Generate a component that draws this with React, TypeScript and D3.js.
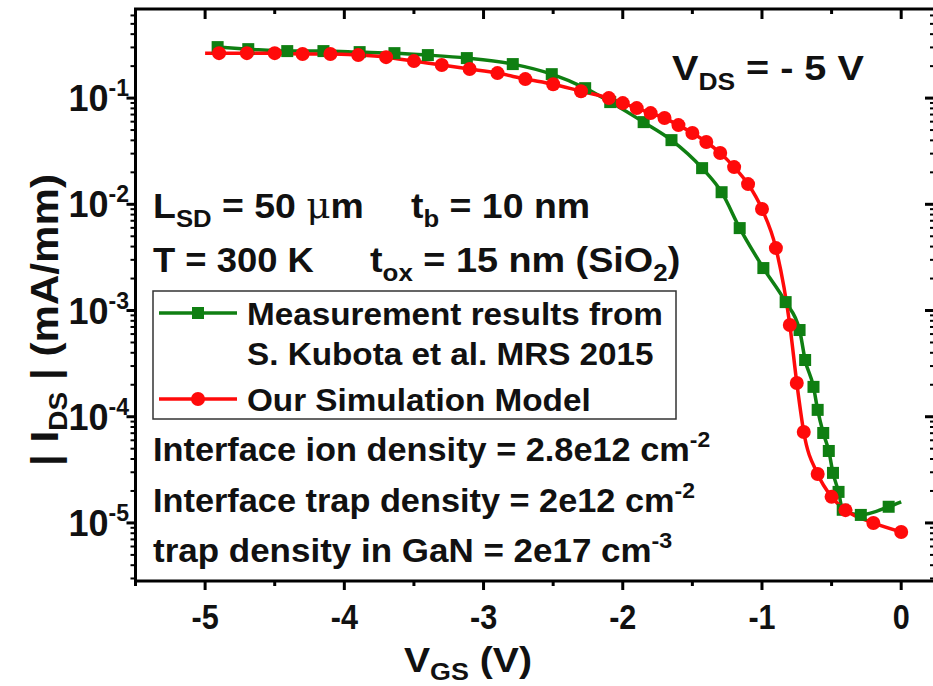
import React from 'react'
import * as d3 from 'd3'

const measVgs = [-4.91, -4.69, -4.41, -4.15, -3.89, -3.64, -3.40, -3.12, -2.79, -2.51, -2.27, -2.09, -1.85, -1.65, -1.43, -1.29, -1.16, -0.99, -0.83, -0.73, -0.69, -0.63, -0.60, -0.56, -0.52, -0.49, -0.45, -0.42, -0.29, -0.09, 0.0]
const measIds = [0.302, 0.289, 0.277, 0.277, 0.271, 0.265, 0.254, 0.238, 0.209, 0.168, 0.124, 0.0917, 0.0594, 0.0402, 0.0219, 0.013, 0.00597, 0.00251, 0.0012, 6.55e-4, 3.42e-4, 1.91e-4, 1.16e-4, 7.03e-5, 4.76e-5, 2.96e-5, 1.96e-5, 1.33e-5, 1.19e-5, 1.42e-5, 1.58e-5]

// simulation model (red circles)
const simVgs = [-5.0, -4.9, -4.7, -4.5, -4.3, -4.1, -3.9, -3.7, -3.5, -3.3, -3.1, -2.9, -2.7, -2.5, -2.3, -2.1, -2.0, -1.9, -1.8, -1.7, -1.6, -1.5, -1.4, -1.3, -1.2, -1.1, -1.0, -0.9, -0.8, -0.75, -0.7, -0.6, -0.5, -0.4, -0.2, 0.0]
const simIds = [0.265, 0.265, 0.265, 0.265, 0.26, 0.26, 0.254, 0.243, 0.223, 0.205, 0.188, 0.172, 0.151, 0.135, 0.116, 0.1, 0.0897, 0.0805, 0.0722, 0.0649, 0.0557, 0.0469, 0.0386, 0.0304, 0.0224, 0.0155, 0.00902, 0.00387, 7.31e-4, 2.08e-4, 7.18e-5, 2.89e-5, 1.76e-5, 1.32e-5, 1.0e-5, 8.22e-6]

const xTickValues = [-5, -4, -3, -2, -1, 0]
const xTickLabels = ['-5', '-4', '-3', '-2', '-1', '0']
const yTickValues = [1e-1, 1e-2, 1e-3, 1e-4, 1e-5]
const yTickExps = ['-1', '-2', '-3', '-4', '-5']

const legendNames = ['Measurement results from', 'S. Kubota et al. MRS 2015', 'Our Simulation Model']

const GREEN = '#0f7f12'
const RED = '#ff0a0a'
const FONT = "'Liberation Sans', Arial, sans-serif"
const txt = { fontFamily: FONT, fontWeight: 700, fill: '#111' } as const

// text stretched a little sideways, the original picture is wider than Arial
function T({ x, y, size, sx = 1, rot = 0, anchor = 'start', children }: any) {
  return (
    <g transform={`translate(${x},${y}) rotate(${rot}) scale(${sx},1)`}>
      <text fontSize={size} textAnchor={anchor} style={txt}>{children}</text>
    </g>
  )
}

export default function App() {
  const W = 933
  const H = 686
  const x = d3.scaleLinear().domain([-5.5, 0.25]).range([135.5, 936])
  const y = d3.scaleLog().domain([2.84e-6, 0.69]).range([581, 9])
  const [x0, x1] = x.range()
  const [y0, y1] = y.range()

  const meas = measVgs.map((v, i) => ({ v, c: measIds[i] }))
  const sim = simVgs.map((v, i) => ({ v, c: simIds[i] }))
  const line = d3.line<{ v: number; c: number }>()
    .x(d => x(d.v))
    .y(d => y(d.c))
    .curve(d3.curveMonotoneX)

  const xMinor = d3.range(-5.5, 0.26, 0.5).filter(v => Math.abs(v - Math.round(v)) > 0.1)
  const yMinor = y.ticks().filter(v => {
    const m = v / Math.pow(10, Math.floor(Math.log10(v) + 1e-9))
    return Math.abs(m - 1) > 0.01
  })

  const sw = 3

  return (
    <svg width={W} height={H} style={{ position: 'absolute', left: 0, top: 0, background: '#fff' }}>
      <rect width={W} height={H} fill="#fff" />

      {/* ticks */}
      <g stroke="#000" strokeWidth={sw}>
        {xTickValues.map(v => (
          <g key={'xt' + v}>
            <line x1={x(v)} x2={x(v)} y1={y0} y2={y0 + 9} />
            <line x1={x(v)} x2={x(v)} y1={y1} y2={y1 + 10} />
          </g>
        ))}
        {xMinor.map(v => (
          <g key={'xm' + v}>
            <line x1={x(v)} x2={x(v)} y1={y0} y2={y0 + 5} />
            <line x1={x(v)} x2={x(v)} y1={y1} y2={y1 + 5} />
          </g>
        ))}
        {yTickValues.map(v => (
          <g key={'yt' + v}>
            <line x1={x0 - 9} x2={x0} y1={y(v)} y2={y(v)} />
            <line x1={x1 - 11} x2={x1} y1={y(v)} y2={y(v)} />
          </g>
        ))}
        {yMinor.map(v => (
          <g key={'ym' + v}>
            <line x1={x0 - 5} x2={x0} y1={y(v)} y2={y(v)} strokeWidth={2} />
            <line x1={x1 - 6} x2={x1} y1={y(v)} y2={y(v)} strokeWidth={2} />
          </g>
        ))}
      </g>

      {/* frame */}
      <rect x={x0} y={y1} width={x1 - x0} height={y0 - y1} fill="none" stroke="#000" strokeWidth={sw} />

      {/* tick labels */}
      {xTickValues.map((v, i) => (
        <T key={'xl' + v} x={x(v)} y={629} size={36} sx={0.85} anchor="middle">{xTickLabels[i]}</T>
      ))}
      {yTickValues.map((v, i) => (
        <T key={'yl' + v} x={129} y={y(v) + 13} size={36} anchor="end">
          10<tspan dy={-15} fontSize={23}>{yTickExps[i]}</tspan>
        </T>
      ))}

      {/* axis titles */}
      <T x={468} y={672} size={35} sx={1.12} anchor="middle">
        V<tspan dy={8} fontSize={24}>GS</tspan><tspan dy={-8}> (V)</tspan>
      </T>
      <T x={58} y={320} size={39} sx={1.08} rot={-90} anchor="middle">
        | I<tspan dy={9} fontSize={26}>DS</tspan><tspan dy={-9}> | (mA/mm)</tspan>
      </T>

      {/* data */}
      <path d={line(meas) ?? ''} fill="none" stroke={GREEN} strokeWidth={3.5} />
      <path d={line(sim) ?? ''} fill="none" stroke={RED} strokeWidth={3.5} />
      {meas.slice(0, -1).map((d, i) => (
        <rect key={'m' + i} x={x(d.v) - 6} y={y(d.c) - 6} width={12} height={12} fill={GREEN} />
      ))}
      {sim.slice(1).map((d, i) => (
        <circle key={'s' + i} cx={x(d.v)} cy={y(d.c)} r={7} fill={RED} />
      ))}

      {/* annotations */}
      <T x={672} y={80} size={36} sx={1.1}>
        V<tspan dy={10} fontSize={24}>DS</tspan><tspan dy={-10}> = - 5 V</tspan>
      </T>
      <T x={153} y={218} size={35} sx={1.07}>
        L<tspan dy={9} fontSize={24}>SD</tspan><tspan dy={-9}> = 50 </tspan><tspan fontFamily="'DejaVu Serif', serif" fontWeight={400}>μ</tspan>m
      </T>
      <T x={411} y={218} size={35} sx={1.07}>
        t<tspan dy={9} fontSize={24}>b</tspan><tspan dy={-9}> = 10 nm</tspan>
      </T>
      <T x={153} y={272} size={35} sx={1.04}>T = 300 K</T>
      <T x={370} y={272} size={35} sx={1.08}>
        t<tspan dy={9} fontSize={24}>ox</tspan><tspan dy={-9}> = 15 nm (SiO</tspan><tspan dy={9} fontSize={24}>2</tspan><tspan dy={-9}>)</tspan>
      </T>

      {/* legend */}
      <rect x={153} y={291} width={523} height={128} fill="#fff" stroke="#333" strokeWidth={1.5} />
      <line x1={159} x2={237} y1={313} y2={313} stroke={GREEN} strokeWidth={3.5} />
      <rect x={192} y={307} width={12} height={12} fill={GREEN} />
      <line x1={159} x2={237} y1={399} y2={399} stroke={RED} strokeWidth={3.5} />
      <circle cx={198} cy={399} r={7} fill={RED} />
      <T x={247} y={325} size={32} sx={1.04}>{legendNames[0]}</T>
      <T x={247} y={365} size={32} sx={1.04}>{legendNames[1]}</T>
      <T x={247} y={411} size={32} sx={1.04}>{legendNames[2]}</T>

      <T x={153} y={461} size={33} sx={1.04}>
        Interface ion density = 2.8e12 cm<tspan dy={-14} fontSize={22}>-2</tspan>
      </T>
      <T x={153} y={512} size={33} sx={1.04}>
        Interface trap density = 2e12 cm<tspan dy={-14} fontSize={22}>-2</tspan>
      </T>
      <T x={153} y={562} size={33} sx={1.06}>
        trap density in GaN = 2e17 cm<tspan dy={-14} fontSize={22}>-3</tspan>
      </T>
    </svg>
  )
}
